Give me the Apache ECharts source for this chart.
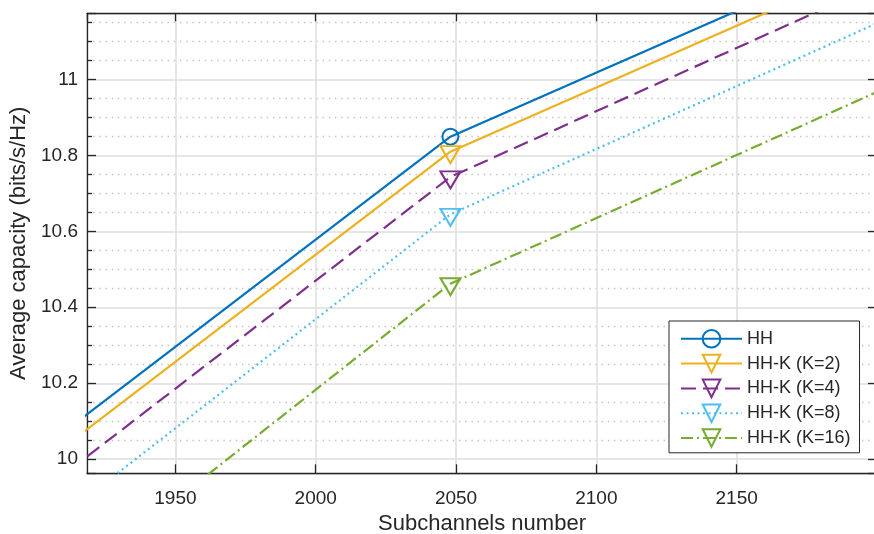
<!DOCTYPE html>
<html>
<head>
<meta charset="utf-8">
<script src="https://cdn.jsdelivr.net/npm/echarts@6/dist/echarts.min.js"></script>
<style>
html,body{margin:0;padding:0;background:#fff;}
#chart{width:874px;height:534px;}
</style>
</head>
<body>
<div id="chart"></div>
<script>
// ---- data ----
const xValues = [1900, 2048, 2200];
const hh      = [10.014, 10.849, 11.342];
const hhK2    = [9.9745, 10.8095, 11.3035];
const hhK4    = [9.9016, 10.743, 11.249];
const hhK8    = [9.7945, 10.6445, 11.1476];
const hhK16   = [9.602, 10.462, 10.9667];
const seriesNames = ['HH', 'HH-K (K=2)', 'HH-K (K=4)', 'HH-K (K=8)', 'HH-K (K=16)'];
const markerIndex = 1; // only the point at 2048 carries a marker inside the view
const xLimits = [1918.5, 2200];
const yLimits = [9.963, 11.1737];

const FONT = "'Liberation Sans', Arial, Helvetica, sans-serif";
const INK = '#262626';

function build(values) {
  return values.map((v, i) => i === markerIndex
    ? { value: [xValues[i], v] }
    : { value: [xValues[i], v], symbol: 'none' });
}

function mkSeries(name, values, color, type, symbol, size, offset) {
  return {
    name: name,
    type: 'line',
    data: build(values),
    symbol: symbol,
    symbolSize: size,
    symbolRotate: symbol === 'triangle' ? 180 : 0,
    symbolOffset: offset,
    showSymbol: true,
    clip: true,
    lineStyle: { color: color, width: 2.2, type: type },
    itemStyle: { color: 'rgba(255,255,255,0)', borderColor: color, borderWidth: 2 },
    emphasis: { disabled: true },
    z: 3
  };
}

const chart = echarts.init(document.getElementById('chart'), null, { renderer: 'canvas' });

const isMult = (v, step) => Math.abs(v / step - Math.round(v / step)) < 1e-6;

chart.setOption({
  animation: false,
  backgroundColor: '#fff',
  textStyle: { fontFamily: FONT },
  grid: { left: 87, top: 13.3, width: 790, height: 460, containLabel: false, outerBoundsMode: 'none' },
  legend: {
    orient: 'vertical',
    left: 669,
    top: 321,
    padding: [8, 9, 5, 11],
    itemWidth: 61,
    itemHeight: 22,
    itemGap: 5.2,
    backgroundColor: '#fff',
    borderColor: INK,
    borderWidth: 1,
    borderRadius: 0,
    textStyle: { fontFamily: FONT, fontSize: 18, color: INK },
    data: seriesNames,
    selectedMode: false
  },
  xAxis: [{
    type: 'value',
    min: xLimits[0], max: xLimits[1],
    name: 'Subchannels number',
    nameLocation: 'middle',
    nameGap: 39,
    nameTextStyle: { fontFamily: FONT, fontSize: 22, color: INK },
    axisLine: { show: true, onZero: false, lineStyle: { color: INK, width: 1.3 } },
    axisTick: { show: true, inside: true, length: 9, lineStyle: { color: INK, width: 1.3 } },
    axisLabel: {
      show: true, margin: 16, fontSize: 19, color: INK, fontFamily: FONT,
      formatter: v => isMult(v, 50) ? String(Math.round(v)) : '',
      showMinLabel: false, showMaxLabel: false
    },
    splitLine: { show: true, lineStyle: { color: '#dedede', width: 1.5 } },
    minorTick: { show: false },
    minorSplitLine: { show: false }
  }, {
    type: 'value',
    position: 'top',
    min: xLimits[0], max: xLimits[1],
    axisLine: { show: true, onZero: false, lineStyle: { color: INK, width: 1.3 } },
    axisTick: { show: true, inside: true, length: 8, lineStyle: { color: INK, width: 1.3 } },
    axisLabel: { show: false },
    splitLine: { show: false }
  }],
  yAxis: [{
    type: 'value',
    min: yLimits[0], max: yLimits[1],
    name: 'Average capacity (bits/s/Hz)',
    nameLocation: 'middle',
    nameGap: 49,
    nameTextStyle: { fontFamily: FONT, fontSize: 22, color: INK },
    axisLine: { show: true, onZero: false, lineStyle: { color: INK, width: 1.3 } },
    axisTick: { show: true, inside: true, length: 9, lineStyle: { color: INK, width: 1.3 } },
    minorTick: { show: true, splitNumber: 4, length: 5, lineStyle: { color: INK, width: 1.3 } },
    axisLabel: {
      show: true, margin: 9, fontSize: 19, color: INK, fontFamily: FONT,
      formatter: v => isMult(v, 0.2) ? String(Math.round(v * 10) / 10) : '',
      showMinLabel: false, showMaxLabel: false
    },
    splitLine: { show: true, lineStyle: { color: '#dedede', width: 1.5 } },
    minorSplitLine: { show: true, lineStyle: { color: '#c2c2c2', width: 1.3, type: [1.4, 4.8] } }
  }, {
    type: 'value',
    position: 'right',
    min: yLimits[0], max: yLimits[1],
    axisLine: { show: true, onZero: false, lineStyle: { color: INK, width: 1.3 } },
    axisTick: { show: true, inside: true, length: 9, lineStyle: { color: INK, width: 1.3 } },
    axisLabel: { show: false },
    splitLine: { show: false }
  }],
  series: [
    mkSeries(seriesNames[0], hh,    '#0072BD', 'solid',        'circle',   16,       [0, 0]),
    mkSeries(seriesNames[1], hhK2,  '#EDB120', 'solid',        'triangle', [20, 17], [0, 3]),
    mkSeries(seriesNames[2], hhK4,  '#7E2F8E', [15, 7],        'triangle', [20, 17], [0, 3]),
    mkSeries(seriesNames[3], hhK8,  '#4DBEEE', [2, 3.5],       'triangle', [20, 17], [0, 3]),
    mkSeries(seriesNames[4], hhK16, '#77AC30', [12, 4, 2, 4],  'triangle', [20, 17], [0, 3])
  ]
});
</script>
</body>
</html>
